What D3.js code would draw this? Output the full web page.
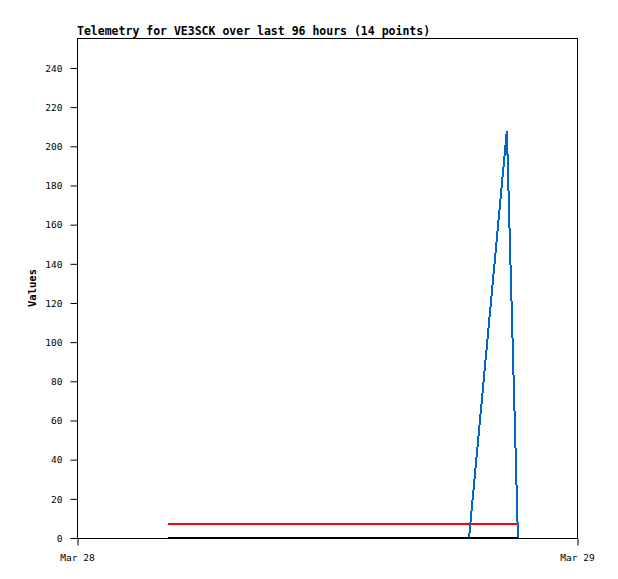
<!DOCTYPE html>
<html>
<head>
<meta charset="utf-8">
<script src="https://cdn.jsdelivr.net/npm/d3@7"></script>
<style>
  body { margin: 0; background: #fff; }
  text { font-family: "DejaVu Sans Mono", monospace; }
</style>
</head>
<body>
<div id="chart"></div>
<script>
// sample times (Mar 28) and the three telemetry channels
const times = ["04:22", "05:40", "07:00", "08:20", "09:40", "11:00", "12:20",
               "13:40", "15:00", "16:20", "17:40", "18:49", "20:38", "21:10"];
const blueVals  = [0, 0, 0, 0, 0, 0, 0, 0, 0, 0, 0, 0, 208, 0];
const redVals   = [7, 7, 7, 7, 7, 7, 7, 7, 7, 7, 7, 7, 7, 7];
const blackVals = [0, 0, 0, 0, 0, 0, 0, 0, 0, 0, 0, 0, 0, 0];
const yTicks = [0, 20, 40, 60, 80, 100, 120, 140, 160, 180, 200, 220, 240];
const xTicks = ["2024-03-28T00:00", "2024-03-29T00:00"];

const W = 618, H = 579;
const margin = {top: 38, right: 41, bottom: 41, left: 77};
const width = W - margin.left - margin.right;
const height = H - margin.top - margin.bottom;

const parse = d3.timeParse("%Y-%m-%dT%H:%M");
const dates = times.map(t => parse("2024-03-28T" + t));

const svg = d3.select("#chart").append("svg")
  .attr("width", W).attr("height", H);

const g = svg.append("g")
  .attr("transform", "translate(" + margin.left + "," + margin.top + ")");

const x = d3.scaleTime()
  .domain([parse(xTicks[0]), parse(xTicks[1])])
  .range([0, width]);

const y = d3.scaleLinear()
  .domain([0, 255.3])
  .range([height, 0]);

// frame
g.append("rect")
  .attr("x", 0.5).attr("y", 0.5)
  .attr("width", width).attr("height", height)
  .attr("fill", "none").attr("stroke", "#000");

// y axis
const yAxis = g.append("g")
  .attr("transform", "translate(0.5,0)")
  .call(d3.axisLeft(y).tickValues(yTicks).tickSize(7).tickPadding(8).tickSizeOuter(0));
yAxis.select(".domain").remove();
yAxis.selectAll("text").style("font-size", "9.5px").attr("dy", "0.35em");

// x axis
const xAxis = g.append("g")
  .attr("transform", "translate(0," + (height + 0.5) + ")")
  .call(d3.axisBottom(x).tickValues(xTicks.map(parse)).tickFormat(d3.timeFormat("%b %d"))
    .tickSize(7).tickPadding(9).tickSizeOuter(0));
xAxis.select(".domain").remove();
xAxis.selectAll("line").attr("transform", "translate(0.5,0)");
xAxis.selectAll("text").style("font-size", "9.5px");

// series lines
function drawSeries(vals, color, w) {
  const line = d3.line()
    .x((d, i) => x(dates[i]))
    .y(d => y(d));
  g.append("path")
    .datum(vals)
    .attr("d", line)
    .attr("fill", "none")
    .attr("stroke", color)
    .attr("stroke-width", w)
    .attr("shape-rendering", "crispEdges");
}
drawSeries(redVals, "#ff0000", 2);
drawSeries(blueVals, "#0066cc", 2);
drawSeries(blackVals, "#000000", 2.5);

// title
svg.append("text")
  .attr("x", margin.left).attr("y", 35)
  .style("font-size", "11.5px").style("font-weight", "bold")
  .text("Telemetry for VE3SCK over last 96 hours (14 points)");

// y label
svg.append("text")
  .attr("transform", "translate(36," + (margin.top + height / 2) + ") rotate(-90)")
  .attr("text-anchor", "middle")
  .style("font-size", "10.5px").style("font-weight", "bold")
  .text("Values");
</script>
</body>
</html>
